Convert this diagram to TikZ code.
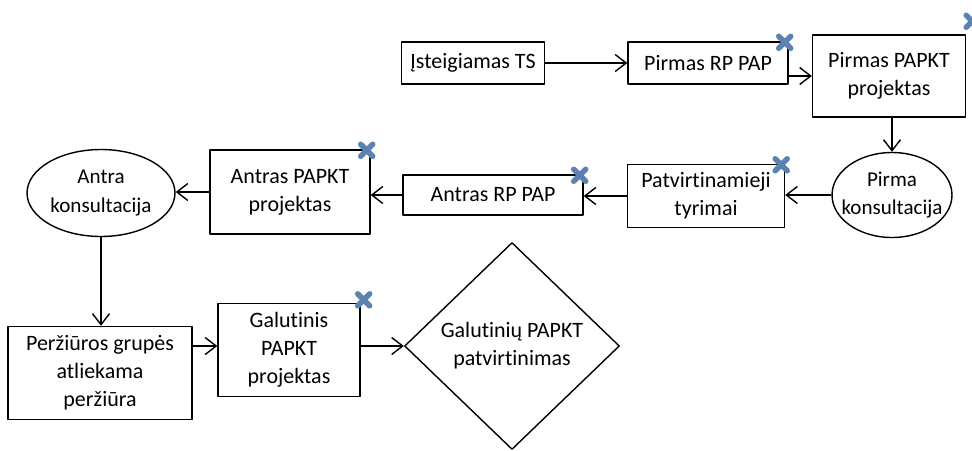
\documentclass[tikz,border=0pt]{standalone}
\usepackage{fontspec}
\setmainfont{Carlito}[Ligatures=NoCommon]
\usetikzlibrary{%
  arrows.meta,%
  shapes.geometric,% wg. ellipse, diamond
  positioning%
}
\definecolor{kryziausSpalva}{RGB}{92,130,178}

\begin{document}
\begin{tikzpicture}[
    x=0.02cm,y=-0.02cm,
    >={Straight Barb[length=2.2mm,width=3.4mm]},
    line width=0.8pt,line join=round,
    every node/.style={font=\fontsize{12.5}{16}\selectfont,align=center,inner sep=1pt},
    dezute/.style={rectangle,draw,fill=white},
    konsultacija/.style={ellipse,draw,fill=white,inner sep=-20pt,
        font=\fontsize{12}{16}\selectfont},
    sprendimas/.style={diamond,draw,fill=white,inner sep=0pt},
    kryzius/.style={draw=kryziausSpalva,line width=1.1mm,line cap=round}
  ]
    \useasboundingbox (0,0) rectangle (972,450);

    % pirma eile
    \node (tsIst)      [dezute,minimum width=2.86cm,minimum height=0.84cm] at (473,63)  {Įsteigiamas TS};
    \node (rpPirm)     [dezute,minimum width=3.2cm,minimum height=0.84cm]  at (708,63)  {Pirmas RP PAP};
    \node (papktPirm)  [dezute,minimum width=3.06cm,minimum height=1.64cm] at (889,76)  {Pirmas PAPKT\\projektas};

    % antra eile
    \node (konsPirm)   [konsultacija,minimum width=2.4cm,minimum height=1.7cm]  at (892,195) {Pirma\\konsultacija};
    \node (tyrimai)    [dezute,minimum width=3.14cm,minimum height=1.26cm]   at (706,196) {Patvirtinamieji\\tyrimai};
    \node (rpAntr)     [dezute,minimum width=3.6cm,minimum height=0.8cm]     at (493,195) {Antras RP PAP};
    \node (papktAntr)  [dezute,minimum width=3.2cm,minimum height=1.68cm]    at (290,192) {Antras PAPKT\\projektas};
    \node (konsAntr)   [konsultacija,minimum width=2.96cm,minimum height=1.74cm] at (101,193) {Antra\\konsultacija};

    % trecia eile
    \node (perziura)   [dezute,minimum width=3.68cm,minimum height=1.86cm] at (100,373) {Peržiūros grupės\\atliekama\\peržiūra};
    \node (papktGal)   [dezute,minimum width=2.84cm,minimum height=1.86cm] at (289,350) {Galutinis\\PAPKT\\projektas};
    \node (tvirt)      [sprendimas,minimum width=4.3cm,minimum height=4.14cm] at (512,346) {Galutinių PAPKT\\patvirtinimas};

    \begin{scope}[->]
        \draw (tsIst) -- (rpPirm);
        \draw (rpPirm.east |- papktPirm.west) -- (papktPirm.west);
        \draw (konsPirm.north |- papktPirm.south) -- (konsPirm.north);
        \draw (konsPirm.west) -- (tyrimai.east |- konsPirm.west);
        \draw (tyrimai.west) -- (rpAntr.east |- tyrimai.west);
        \draw (rpAntr.west) -- (papktAntr.east |- rpAntr.west);
        \draw (papktAntr.west) -- (konsAntr.east |- papktAntr.west);
        \draw (konsAntr.south) -- (konsAntr.south |- perziura.north);
        \draw (perziura.east |- tvirt.west) -- (papktGal.west |- tvirt.west);
        \draw (papktGal.east |- tvirt.west) -- (tvirt.west);
    \end{scope}

    % kryzeliai
    \foreach \n in {rpPirm,tyrimai,rpAntr,papktAntr}
        \draw[kryzius] ([shift={(-4,1)}]\n.north east) +(-6,-6) -- +(6,6) +(-6,6) -- +(6,-6);
    \draw[kryzius] ([shift={(3,-3)}]papktGal.north east) +(-6,-6) -- +(6,6) +(-6,6) -- +(6,-6);
    \draw[kryzius] ([shift={(6,-13)}]papktPirm.north east) +(-6,-6) -- +(6,6) +(-6,6) -- +(6,-6);
\end{tikzpicture}
\end{document}
